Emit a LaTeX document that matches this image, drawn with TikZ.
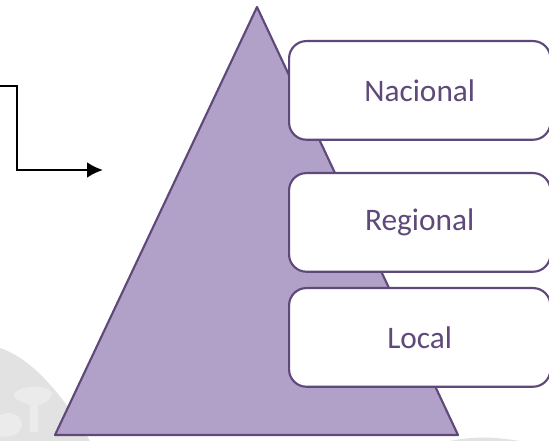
\documentclass[tikz,border=0pt]{standalone}
\usepackage{fontspec}
\setmainfont{Carlito}
\usetikzlibrary{arrows.meta}
\definecolor{purp}{HTML}{5F497A}
\definecolor{lilac}{HTML}{B1A0C7}
\definecolor{wm}{HTML}{E2E2E2}
\definecolor{wmlight}{HTML}{EBEBEB}
\tikzset{
  px/.style={x=0.75pt,y=-0.75pt},
  levelbox/.style={draw=purp,line width=1.6pt,fill=white,rounded corners=13pt,minimum width=196pt,minimum height=74pt,inner sep=0pt,text=purp,font=\fontsize{23.5}{28}\selectfont,anchor=north west},
  elbow/.style={draw=black,line width=2pt,-{Latex[length=12pt,width=12pt]}}
}
\begin{document}
\begin{tikzpicture}[px]
\useasboundingbox (0,0) rectangle (549,441);
\fill[white] (0,0) rectangle (549,441);
% watermark
\fill[wm] (0,348) .. controls (30,358) and (60,390) .. (90,441) -- (0,441) -- cycle;
\fill[wmlight] (14,395) .. controls (14,388) and (40,382) .. (52,392) .. controls (52,400) and (42,405) .. (38,405) -- (38,432) -- (30,432) -- (30,405) .. controls (25,403) and (14,400) .. (14,395) -- cycle;
\fill[wmlight] (0,415) .. controls (10,410) and (22,415) .. (22,425) .. controls (20,435) and (10,438) .. (0,436) -- cycle;
\fill[wm] (450,441) .. controls (470,437) and (490,436) .. (520,441) -- cycle;
% pyramid
\draw[draw=purp,line width=1.6pt,fill=lilac,line join=round] (257,7) -- (55,435) -- (458,435) -- cycle;
\node[levelbox] (nac) at (288,40) {\raisebox{-2pt}{Nacional}};
\node[levelbox] (reg) at (288,172) {\raisebox{-2pt}{Regional}};
\node[levelbox] (loc) at (288,287) {\raisebox{-1pt}{Local}};
\coordinate (s) at (-2,86);
\coordinate (c1) at (17,86);
\coordinate (c2) at (17,170);
\coordinate (e) at (103,170);
\draw[elbow] (s) -- (c1) -- (c2) -- (e);
\end{tikzpicture}
\end{document}
